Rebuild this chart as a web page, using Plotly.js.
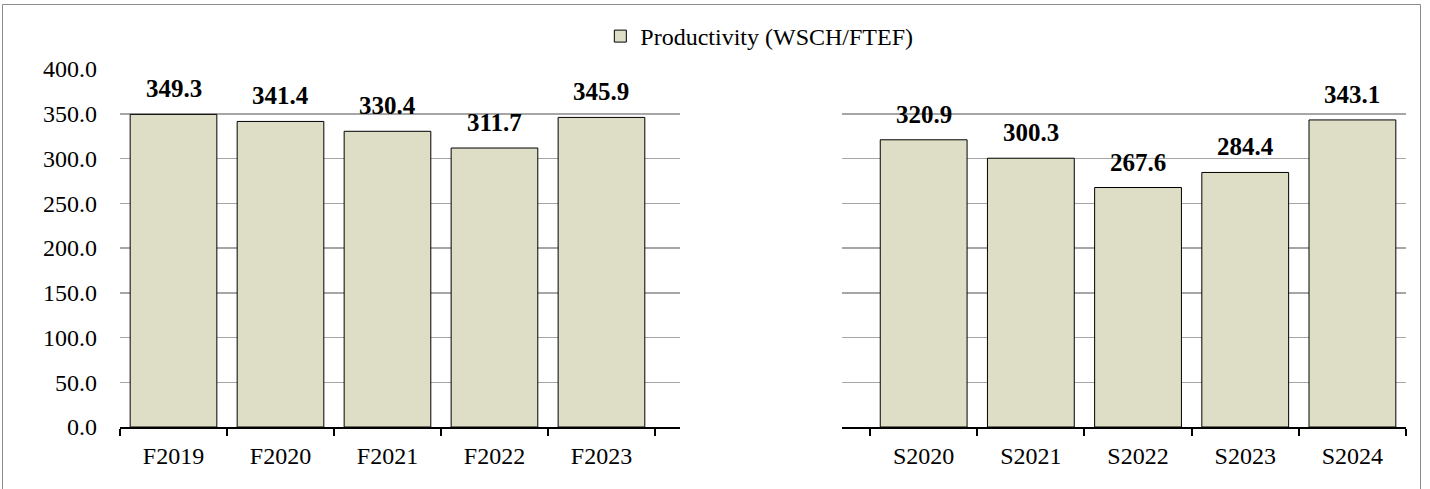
<!DOCTYPE html>
<html>
<head>
<meta charset="utf-8">
<script src="https://cdn.plot.ly/plotly-3.0.1.min.js"></script>
<style>html,body{margin:0;padding:0;background:#fff;}#chart{width:1430px;height:489px;}</style>
</head>
<body>
<div id="chart"></div>
<script>
const fallTerms = ["F2019", "F2020", "F2021", "F2022", "F2023"];
const fallValues = [349.3, 341.4, 330.4, 311.7, 345.9];
const springTerms = ["S2020", "S2021", "S2022", "S2023", "S2024"];
const springValues = [320.9, 300.3, 267.6, 284.4, 343.1];
const seriesName = "Productivity (WSCH/FTEF)";
const yTickVals = [0, 50, 100, 150, 200, 250, 300, 350, 400];
const yTickText = ["0.0", "50.0", "100.0", "150.0", "200.0", "250.0", "300.0", "350.0", "400.0"];

const W = 1430, H = 489;
const font = "Liberation Serif";
const barColor = "#DEDEC6";

const traces = [
  {type: "bar", x: fallTerms, y: fallValues, xaxis: "x", yaxis: "y", name: seriesName,
   marker: {color: barColor, line: {color: "#000", width: 1}}, width: 0.81, showlegend: true, hoverinfo: "skip"},
  {type: "bar", x: springTerms, y: springValues, xaxis: "x2", yaxis: "y2", name: seriesName,
   marker: {color: barColor, line: {color: "#000", width: 1}}, width: 0.81, showlegend: false, hoverinfo: "skip"}
];

const labelFont = {family: font, size: 25, color: "#000", weight: "bold"};
const annotations = [];
fallTerms.forEach((c, i) => annotations.push({x: c, y: fallValues[i], xref: "x", yref: "y", text: fallValues[i].toFixed(1),
  showarrow: false, yanchor: "bottom", yshift: 10, font: labelFont}));
springTerms.forEach((c, i) => annotations.push({x: c, y: springValues[i], xref: "x2", yref: "y2", text: springValues[i].toFixed(1),
  showarrow: false, yanchor: "bottom", yshift: 10, font: labelFont}));

const tickFont = {family: font, size: 24, color: "#000"};
const yTop = 1 - 69 / H, yBot = 1 - 427 / H;
const xaxisCommon = {type: "category", showgrid: false, zeroline: false, showline: true, linecolor: "#000", linewidth: 2,
  ticks: "outside", tickson: "boundaries", ticklen: 7, tickwidth: 2, tickcolor: "#000",
  tickfont: tickFont, automargin: false, fixedrange: true, ticklabelstandoff: 6};
const yaxisCommon = {range: [0, 400], tickvals: yTickVals, ticktext: yTickText, showgrid: true, gridcolor: "#A6A6A6", gridwidth: 1.5,
  zeroline: false, showline: false, ticks: "", automargin: false, fixedrange: true, domain: [yBot, yTop]};

const layout = {
  width: W, height: H,
  margin: {l: 0, r: 0, t: 0, b: 0},
  paper_bgcolor: "#fff", plot_bgcolor: "rgba(0,0,0,0)",
  font: {family: font, color: "#000"},
  bargap: 0.19,
  xaxis: Object.assign({}, xaxisCommon, {domain: [120 / W, 680 / W], range: [-0.5, 4.734], anchor: "y"}),
  xaxis2: Object.assign({}, xaxisCommon, {domain: [842 / W, 1406 / W], range: [-0.762, 4.5], anchor: "y2"}),
  yaxis: Object.assign({}, yaxisCommon, {anchor: "x", tickfont: tickFont, ticklabelstandoff: 22}),
  yaxis2: Object.assign({}, yaxisCommon, {anchor: "x2", showticklabels: false}),
  legend: {orientation: "h", x: 0.531, xanchor: "center", y: 1 - 14 / H, yanchor: "top",
    font: tickFont, bgcolor: "rgba(0,0,0,0)", itemwidth: 30},
  annotations: annotations,
  shapes: [{type: "rect", xref: "paper", yref: "paper", x0: 2.5 / W, x1: 1420.5 / W, y0: -0.02, y1: 1 - 4.5 / H,
    line: {color: "#8C8C8C", width: 1}, fillcolor: "rgba(0,0,0,0)", layer: "below"}]
};

Plotly.newPlot("chart", traces, layout, {displayModeBar: false, staticPlot: true});
</script>
</body>
</html>
